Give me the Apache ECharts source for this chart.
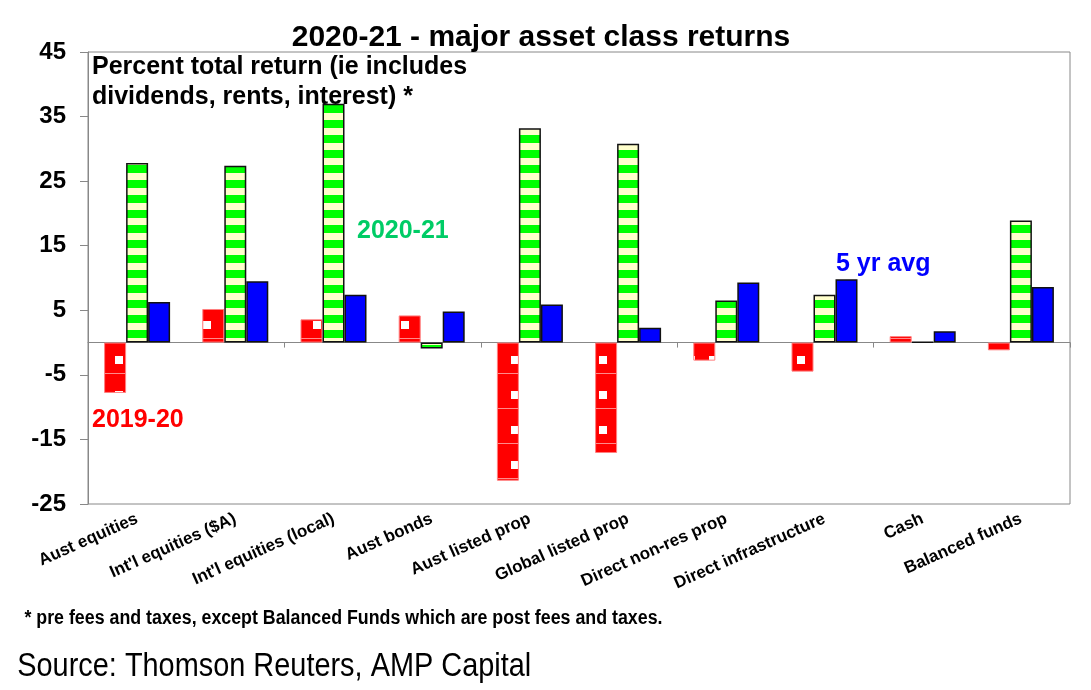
<!DOCTYPE html>
<html>
<head>
<meta charset="utf-8">
<script src="https://cdn.jsdelivr.net/npm/echarts@6/dist/echarts.min.js"></script>
<style>
  html, body { margin: 0; padding: 0; background: #fff; }
  #chart { width: 1091px; height: 690px; }
</style>
</head>
<body>
<div id="chart"></div>
<script>
// 데이터
var categories = ['Aust equities', "Int'l equities ($A)", "Int'l equities (local)", 'Aust bonds',
    'Aust listed prop', 'Global listed prop', 'Direct non-res prop', 'Direct infrastructure',
    'Cash', 'Balanced funds'];
var returns1920 = [-7.8, 5.2, 3.6, 4.2, -21.4, -17.1, -2.8, -4.5, 1.0, -1.2];
var returns2021 = [27.8, 27.4, 37.0, -0.9, 33.2, 30.8, 6.5, 7.4, 0.1, 18.9];
var avg5yr = [6.3, 9.5, 7.4, 4.8, 5.9, 2.3, 9.3, 9.8, 1.75, 8.6];
var yTicks = { min: -25, max: 45, step: 10 };

var FONT = 'Liberation Sans, Arial, sans-serif';

// 패턴 타일 (초록 줄무늬, 빨간 점무늬)
function stripeTile() {
    var c = document.createElement('canvas');
    c.width = 4; c.height = 15;
    var g = c.getContext('2d');
    g.fillStyle = '#FFFFCC';
    g.fillRect(0, 0, 4, 15);
    g.fillStyle = '#00FF00';
    g.fillRect(0, 0, 4, 8);
    return c;
}
function dotTile() {
    var c = document.createElement('canvas');
    c.width = 22; c.height = 35;
    var g = c.getContext('2d');
    g.fillStyle = '#FF0000';
    g.fillRect(0, 0, 22, 35);
    g.fillStyle = '#FFFFFF';
    g.fillRect(5, 6, 8, 8);
    g.fillStyle = '#FF8A8A';
    g.fillRect(0, 23, 22, 1);
    return c;
}

var option = {
    animation: false,
    backgroundColor: '#fff',
    grid: {
        left: 88, right: 21, top: 52, bottom: 186,
        show: true, borderColor: '#888', borderWidth: 1
    },
    xAxis: [{
        type: 'category',
        data: categories,
        position: 'bottom',
        axisLine: { onZero: true, lineStyle: { color: '#888', width: 1 } },
        axisTick: { show: true, length: 5, lineStyle: { color: '#888' } },
        axisLabel: { show: false }
    }, {
        type: 'category',
        data: categories,
        position: 'bottom',
        axisLine: { show: false, onZero: false },
        axisTick: { show: false },
        axisLabel: {
            rotate: 24, margin: 14, interval: 0,
            color: '#000', fontSize: 17, fontWeight: 'bold', fontFamily: FONT
        }
    }],
    yAxis: {
        type: 'value',
        min: yTicks.min, max: yTicks.max, interval: yTicks.step,
        axisLine: { show: true, lineStyle: { color: '#888' } },
        axisTick: { show: true, length: 8, lineStyle: { color: '#888' } },
        splitLine: { show: false },
        axisLabel: { margin: 22, color: '#000', fontSize: 24, fontWeight: 'bold', fontFamily: FONT }
    },
    series: [{
        name: '2019-20', type: 'bar', data: returns1920,
        barWidth: 22, barGap: '0%',
        itemStyle: { color: { image: dotTile(), repeat: 'repeat' }, borderColor: '#FF8080', borderWidth: 1 }
    }, {
        name: '2020-21', type: 'bar', data: returns2021,
        barWidth: 22, barGap: '0%',
        itemStyle: { color: { image: stripeTile(), repeat: 'repeat' }, borderColor: '#111', borderWidth: 1.5 }
    }, {
        name: '5 yr avg', type: 'bar', data: avg5yr,
        barWidth: 22, barGap: '0%',
        itemStyle: { color: '#0000FF', borderColor: '#111', borderWidth: 1.5 }
    }],
    graphic: [{
        type: 'text', x: 541, y: 38,
        style: { text: '2020-21 - major asset class returns', fill: '#000', font: 'bold 30px ' + FONT,
            textAlign: 'center', textVerticalAlign: 'middle' }
    }, {
        type: 'text', x: 92, y: 52,
        style: { text: 'Percent total return (ie includes\ndividends, rents, interest) *', fill: '#000',
            font: 'bold 25px ' + FONT, lineHeight: 30, textAlign: 'left', textVerticalAlign: 'top' }
    }, {
        type: 'text', x: 357, y: 231,
        style: { text: '2020-21', fill: '#00CC66', font: 'bold 25px ' + FONT,
            textAlign: 'left', textVerticalAlign: 'middle' }
    }, {
        type: 'text', x: 836, y: 264,
        style: { text: '5 yr avg', fill: '#0000FF', font: 'bold 25px ' + FONT,
            textAlign: 'left', textVerticalAlign: 'middle' }
    }, {
        type: 'text', x: 92, y: 420,
        style: { text: '2019-20', fill: '#FF0000', font: 'bold 25px ' + FONT,
            textAlign: 'left', textVerticalAlign: 'middle' }
    }, {
        type: 'text', x: 22, y: 618, scaleX: 0.89, originX: 22, originY: 618,
        style: { text: '* pre fees and taxes, except Balanced Funds which are post fees and taxes.',
            fill: '#000', font: 'bold 20px ' + FONT, textAlign: 'left', textVerticalAlign: 'middle' }
    }, {
        type: 'text', x: 15, y: 667, scaleX: 0.85, originX: 15, originY: 667,
        style: { text: 'Source: Thomson Reuters, AMP Capital', fill: '#000',
            font: '34px ' + FONT, textAlign: 'left', textVerticalAlign: 'middle' }
    }]
};

var myChart = echarts.init(document.getElementById('chart'));
myChart.setOption(option, true);
</script>
</body>
</html>
